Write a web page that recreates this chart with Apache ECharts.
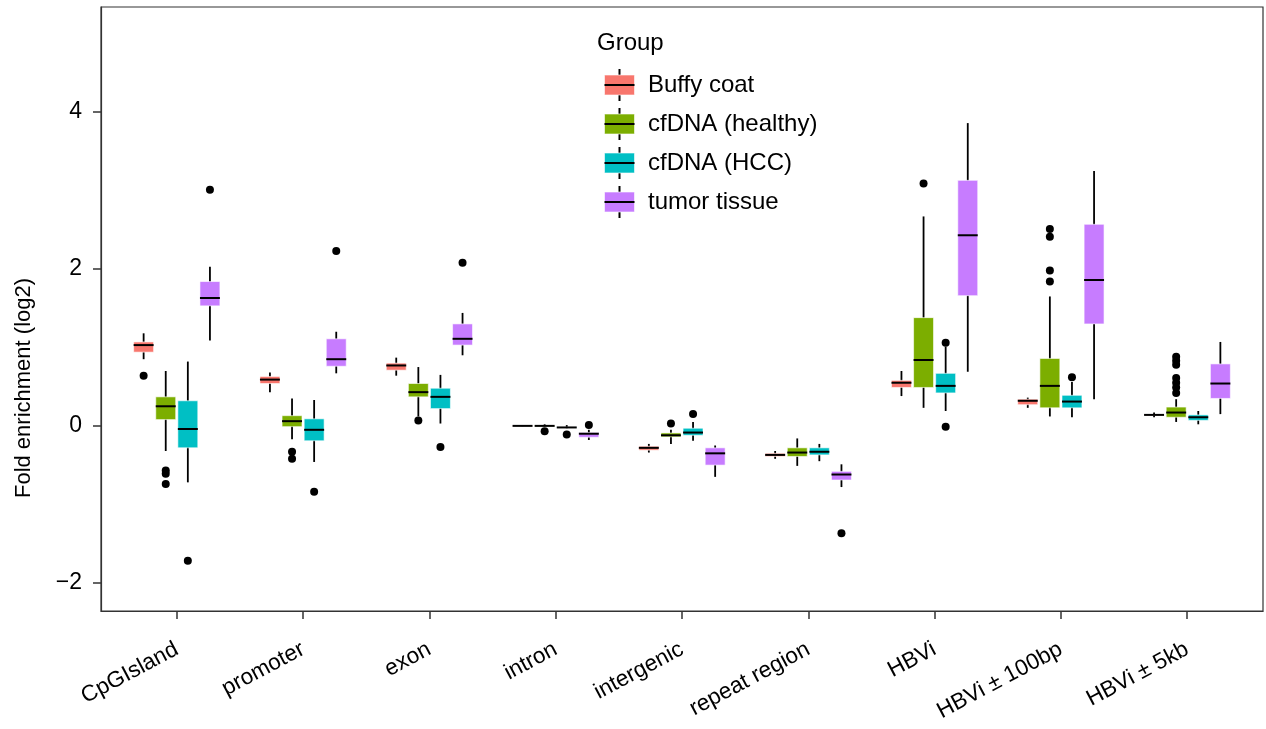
<!DOCTYPE html>
<html>
<head>
<meta charset="utf-8">
<script src="https://cdn.jsdelivr.net/npm/echarts@6/dist/echarts.min.js"></script>
<style>html,body{margin:0;padding:0;background:#fff;overflow:hidden}#c{width:1266px;height:729px}</style>
</head>
<body>
<div id="c"></div>
<script>
const categories = ['CpGIsland','promoter','exon','intron','intergenic','repeat region','HBVi','HBVi \u00b1 100bp','HBVi \u00b1 5kb'];
const groups = ['Buffy coat','cfDNA (healthy)','cfDNA (HCC)','tumor tissue'];
const colors = ['#F8766D','#7CAE00','#00BFC4','#C77CFF'];
const yTicks = [-2, 0, 2, 4];

// [lower whisker, Q1, median, Q3, upper whisker] per category
const buffyCoat = [
  [0.85,0.94,1.03,1.07,1.18],
  [0.43,0.54,0.59,0.63,0.68],
  [0.64,0.71,0.77,0.80,0.87],
  [-0.005,-0.003,0.0,0.003,0.005],
  [-0.34,-0.31,-0.28,-0.26,-0.23],
  [-0.42,-0.39,-0.37,-0.35,-0.32],
  [0.38,0.49,0.55,0.58,0.70],
  [0.23,0.27,0.32,0.34,0.36],
  [0.11,0.135,0.14,0.145,0.17]
];
const cfHealthy = [
  [-0.32,0.08,0.25,0.37,0.70],
  [-0.17,-0.01,0.06,0.13,0.35],
  [0.12,0.37,0.43,0.54,0.75],
  [-0.01,-0.005,0.0,0.005,0.02],
  [-0.23,-0.14,-0.12,-0.09,-0.05],
  [-0.51,-0.39,-0.34,-0.28,-0.16],
  [0.23,0.49,0.84,1.38,2.67],
  [0.12,0.23,0.51,0.86,1.65],
  [0.05,0.11,0.17,0.24,0.34]
];
const cfHCC = [
  [-0.72,-0.28,-0.04,0.32,0.82],
  [-0.46,-0.19,-0.05,0.09,0.33],
  [0.03,0.22,0.37,0.48,0.65],
  [-0.03,-0.025,-0.02,-0.015,0.01],
  [-0.19,-0.12,-0.085,-0.03,0.05],
  [-0.45,-0.37,-0.33,-0.28,-0.23],
  [0.19,0.42,0.51,0.67,1.01],
  [0.11,0.23,0.31,0.39,0.56],
  [0.02,0.07,0.11,0.14,0.19]
];
const tumorTissue = [
  [1.09,1.53,1.63,1.84,2.03],
  [0.67,0.76,0.85,1.11,1.20],
  [0.90,1.03,1.11,1.30,1.44],
  [-0.18,-0.145,-0.10,-0.085,-0.05],
  [-0.65,-0.50,-0.35,-0.28,-0.25],
  [-0.78,-0.69,-0.62,-0.58,-0.49],
  [0.69,1.66,2.43,3.13,3.86],
  [0.34,1.30,1.86,2.57,3.25],
  [0.15,0.35,0.54,0.79,1.07]
];
// outliers: [category index, value]
const buffyOut = [[0,0.64]];
const healthyOut = [[0,-0.57],[0,-0.61],[0,-0.74],[1,-0.33],[1,-0.42],[2,0.07],[3,-0.07],[4,0.03],
  [6,3.09],[7,2.51],[7,2.41],[7,1.98],[7,1.84],[8,0.88],[8,0.83],[8,0.78],[8,0.61],[8,0.55],[8,0.49],[8,0.42]];
const hccOut = [[0,-1.72],[1,-0.84],[2,-0.27],[3,-0.11],[4,0.15],[6,1.06],[6,-0.01],[7,0.62]];
const tumorOut = [[0,3.01],[1,2.23],[2,2.08],[3,0.01],[5,-1.37]];

const boxData = [buffyCoat, cfHealthy, cfHCC, tumorTissue];
const outData = [buffyOut, healthyOut, hccOut, tumorOut];

const FONT = "'Liberation Sans', Arial, Helvetica, sans-serif";
const dodge = 0.175, boxW = 0.158;
const offsets = [-1.5, -0.5, 0.5, 1.5].map(k => k * dodge);

function legendIcon(color) {
  const svg = "<svg xmlns='http://www.w3.org/2000/svg' width='39' height='32'>" +
    "<line x1='15.5' y1='0' x2='15.5' y2='32' stroke='black' stroke-width='2'/>" +
    "<rect x='0.5' y='6' width='30' height='20' fill='" + color + "' stroke='rgba(255,255,255,0.6)' stroke-width='1'/>" +
    "<line x1='0.5' y1='16' x2='30.5' y2='16' stroke='black' stroke-width='2'/></svg>";
  return 'image://data:image/svg+xml;charset=utf-8,' + encodeURIComponent(svg);
}

const series = [];
groups.forEach((g, gi) => {
  const off = offsets[gi], col = colors[gi];
  series.push({
    name: g,
    type: 'custom',
    itemStyle: {color: col},
    data: boxData[gi].map((b, ci) => [ci, b[0], b[1], b[2], b[3], b[4]]),
    encode: {x: 0, y: [1, 2, 3, 4, 5]},
    renderItem: function (params, api) {
      const x = api.value(0) + off;
      const pLo = api.coord([x, api.value(1)]);
      const pQ1 = api.coord([x, api.value(2)]);
      const pMed = api.coord([x, api.value(3)]);
      const pQ3 = api.coord([x, api.value(4)]);
      const pHi = api.coord([x, api.value(5)]);
      const half = api.size([boxW, 0])[0] / 2;
      const cx = pMed[0];
      return {
        type: 'group',
        children: [
          {type: 'line', shape: {x1: cx, y1: pHi[1], x2: cx, y2: pLo[1]}, style: {stroke: '#000', lineWidth: 1.8}},
          {type: 'rect', shape: {x: cx - half, y: pQ3[1], width: half * 2, height: Math.max(pQ1[1] - pQ3[1], 0.5)},
            style: {fill: col, stroke: 'rgba(255,255,255,0.6)', lineWidth: 1}},
          {type: 'line', shape: {x1: cx - half, y1: pMed[1], x2: cx + half, y2: pMed[1]}, style: {stroke: '#000', lineWidth: 2}}
        ]
      };
    },
    z: 2
  });
});
groups.forEach((g, gi) => {
  series.push({
    name: g + ' outliers',
    type: 'scatter',
    symbol: 'circle',
    symbolSize: 8,
    itemStyle: {color: '#000', opacity: 1},
    data: outData[gi].map(o => [o[0] + offsets[gi], o[1]]),
    z: 3
  });
});

const chart = echarts.init(document.getElementById('c'), null, {renderer: 'canvas'});
chart.setOption({
  animation: false,
  backgroundColor: '#fff',
  textStyle: {fontFamily: FONT},
  title: {
    text: 'Group', left: 592, top: 26,
    textStyle: {fontFamily: FONT, fontSize: 24, fontWeight: 'normal', color: '#000'}
  },
  legend: {
    orient: 'vertical', left: 599, top: 64,
    itemWidth: 39, itemHeight: 32, itemGap: 7,
    data: groups.map((g, i) => ({name: g, icon: legendIcon(colors[i])})),
    textStyle: {fontFamily: FONT, fontSize: 24, color: '#000'},
    selectedMode: false
  },
  grid: {left: 101, right: 3, top: 7, bottom: 118, show: true, borderColor: '#333', borderWidth: 1.2,
    containLabel: false, outerBoundsMode: 'none'},
  xAxis: {
    type: 'value', min: -0.6, max: 8.6,
    axisLine: {show: true, onZero: false, lineStyle: {color: '#333', width: 1.2}},
    axisTick: {show: true, customValues: categories.map((c, i) => i), length: 8, lineStyle: {color: '#333', width: 1.5}},
    axisLabel: {
      customValues: categories.map((c, i) => i),
      formatter: v => categories[Math.round(v)],
      rotate: 28, margin: 37, fontSize: 22.5, color: '#000', fontFamily: FONT
    },
    splitLine: {show: false}
  },
  yAxis: {
    type: 'value', min: -2.36, max: 5.34,
    name: 'Fold enrichment (log2)', nameLocation: 'middle', nameGap: 66, nameRotate: 90,
    nameTextStyle: {fontSize: 22, color: '#000', fontFamily: FONT, padding: [0, 158, 0, 0]},
    axisLine: {show: true, onZero: false, lineStyle: {color: '#333', width: 1.2}},
    axisTick: {show: true, customValues: yTicks, length: 8, lineStyle: {color: '#333', width: 1.5}},
    axisLabel: {
      customValues: yTicks,
      formatter: v => (v < 0 ? '\u2212' + Math.abs(v) : String(v)),
      margin: 19, fontSize: 23, color: '#000', fontFamily: FONT
    },
    splitLine: {show: false}
  },
  series: series
});
</script>
</body>
</html>
